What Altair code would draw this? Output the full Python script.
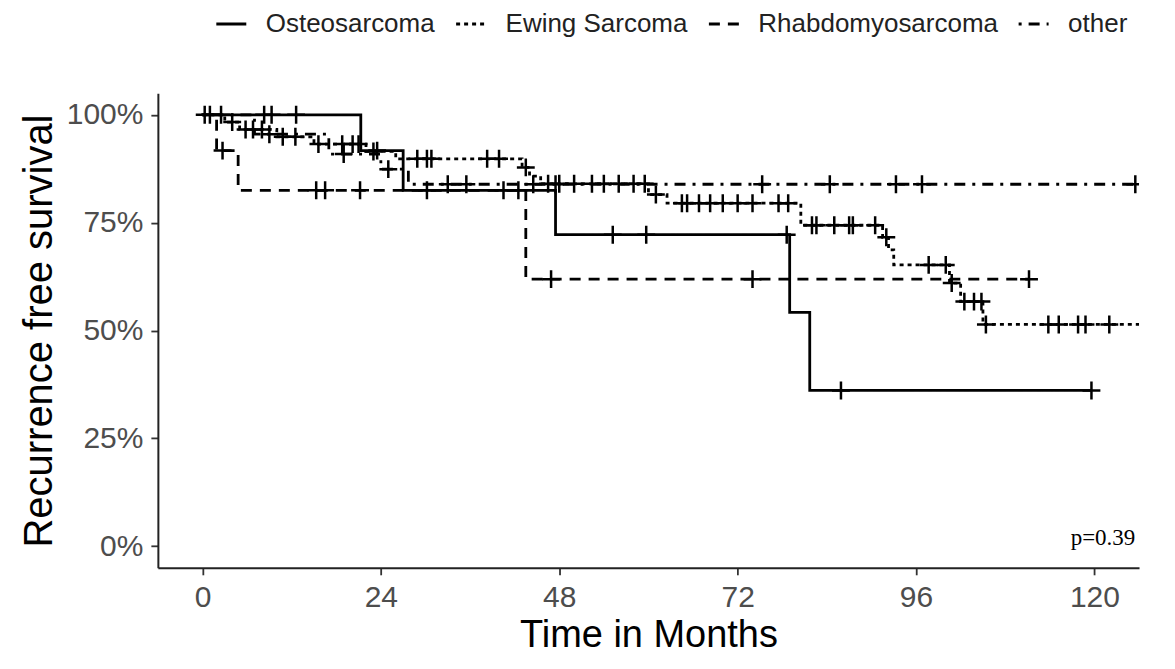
import altair as alt
import pandas as pd

groups = ["Osteosarcoma", "Ewing Sarcoma", "Rhabdomyosarcoma", "other"]
dash_styles = [[1, 0], [4, 4], [11, 8], [3, 7, 11, 7]]

# Kaplan-Meier step points (time in months, survival fraction)
osteo_times = [0, 21.3, 27.0, 47.5, 79.0, 81.7]
osteo_surv = [1.0, 0.917, 0.825, 0.722, 0.542, 0.361]
osteo_end = 119.6
osteo_censor = [8.3, 9.3, 12.6, 23.5, 30.2, 40.5, 42.5, 55.2, 59.7, 78.6, 85.9, 119.6]

ewing_times = [0, 3.0, 5.0, 10.0, 15.0, 22.0, 26.0, 43.0, 44.0, 45.5, 60.0, 62.5,
               80.5, 91.5, 92.3, 93.0, 100.5, 102.0, 105.0]
ewing_surv = [1.0, 0.983, 0.966, 0.949, 0.932, 0.915, 0.898, 0.878, 0.858, 0.840,
              0.815, 0.795, 0.744, 0.716, 0.687, 0.652, 0.610, 0.567, 0.514]
ewing_end = 128.0
ewing_censor = [0.3, 2.5, 4.0, 5.8, 6.8, 8.0, 10.8, 12.5, 15.6, 18.8, 20.2, 21.0,
                23.0, 28.9, 30.2, 30.8, 38.3, 39.9, 43.5, 46.5, 48.0, 50.0, 52.4,
                54.0, 56.0, 58.0, 59.5, 61.0, 64.5, 65.2, 66.8, 68.3, 70.0, 72.0,
                74.0, 77.5, 78.8, 82.0, 82.6, 85.0, 87.0, 87.5, 90.5, 92.0, 97.7,
                100.0, 100.8, 102.5, 103.8, 104.8, 105.4, 113.8, 115.2, 117.8,
                118.8, 122.0]

rhabdo_times = [0, 1.9, 4.8, 43.5]
rhabdo_surv = [1.0, 0.917, 0.825, 0.619]
rhabdo_end = 111.2
rhabdo_censor = [2.7, 15.3, 16.5, 21.2, 46.9, 74.0, 111.2]

other_times = [0, 7.0, 17.0, 24.0, 27.7]
other_surv = [1.0, 0.955, 0.909, 0.874, 0.839]
other_end = 125.5
other_censor = [1.0, 9.0, 19.0, 25.0, 33.0, 35.5, 44.5, 47.5, 75.3, 84.4, 93.3,
                96.8, 125.5]

x_ticks = [0, 24, 48, 72, 96, 120]
y_ticks = [0, 0.25, 0.5, 0.75, 1.0]
p_label = "p=0.39"

series = {
    "Osteosarcoma": (osteo_times, osteo_surv, osteo_end, osteo_censor),
    "Ewing Sarcoma": (ewing_times, ewing_surv, ewing_end, ewing_censor),
    "Rhabdomyosarcoma": (rhabdo_times, rhabdo_surv, rhabdo_end, rhabdo_censor),
    "other": (other_times, other_surv, other_end, other_censor),
}


def surv_at(times, surv, t):
    val = surv[0]
    for ti, si in zip(times, surv):
        if ti <= t:
            val = si
    return val


line_rows, cens_rows = [], []
for g, (ts, ss, end, cens) in series.items():
    for t, s in zip(ts, ss):
        line_rows.append({"group": g, "t": t, "s": s})
    line_rows.append({"group": g, "t": end, "s": ss[-1]})
    for c in cens:
        cens_rows.append({"group": g, "t": c, "s": surv_at(ts, ss, c)})

line_df = pd.DataFrame(line_rows)
cens_df = pd.DataFrame(cens_rows)
p_df = pd.DataFrame({"t": [125.5], "s": [0.018], "label": [p_label]})

x_scale = alt.Scale(domain=[-6, 126], nice=False, zero=False)
y_scale = alt.Scale(domain=[-0.05, 1.05], nice=False, zero=False)

x_enc = alt.X("t:Q", scale=x_scale,
              axis=alt.Axis(values=x_ticks, title="Time in Months", format="d"))
y_enc = alt.Y("s:Q", scale=y_scale,
              axis=alt.Axis(values=y_ticks, title="Recurrence free survival", format=".0%"))

lines = alt.Chart(line_df).mark_line(
    interpolate="step-after", color="black", strokeWidth=2.8, clip=True
).encode(
    x=x_enc,
    y=y_enc,
    strokeDash=alt.StrokeDash(
        "group:N",
        scale=alt.Scale(domain=groups, range=dash_styles),
        legend=alt.Legend(
            title=None, orient="none", direction="horizontal",
            legendX=57, legendY=-86, symbolType="stroke", symbolSize=900,
            symbolStrokeWidth=2.8, symbolStrokeColor="black",
            labelFontSize=26, labelFont="Liberation Sans", labelColor="#222222",
            labelOffset=18, columnPadding=14, padding=0, labelLimit=0
        ),
    ),
    detail="group:N",
)

cens = alt.Chart(cens_df).mark_point(
    shape="M-1,0L1,0M0,-1L0,1", filled=False, stroke="black",
    strokeWidth=2.5, size=320, opacity=1, clip=True
).encode(x="t:Q", y="s:Q")

ptext = alt.Chart(p_df).mark_text(
    align="right", baseline="middle", font="Liberation Serif", fontSize=23,
    color="black"
).encode(x="t:Q", y="s:Q", text="label:N")

chart = alt.layer(lines, cens, ptext).properties(
    width=982, height=475,
    autosize=alt.AutoSizeParams(type="none"),
    padding={"left": 150, "top": 85, "right": 28, "bottom": 88},
).configure_view(stroke=None).configure_axis(
    grid=False,
    domainColor="#222222", domainWidth=2,
    tickColor="#333333", tickWidth=1.8, tickSize=7,
    labelFont="Liberation Sans", labelFontSize=30, labelColor="#4d4d4d",
    labelPadding=8,
    titleFont="Liberation Sans", titleFontSize=40, titleColor="black",
    titleFontWeight="normal",
).configure_axisX(titlePadding=4, labelPadding=8, titleFontSize=38).configure_axisY(titlePadding=7)

chart.save("out.html", embed_options={"renderer": "svg", "actions": False})
